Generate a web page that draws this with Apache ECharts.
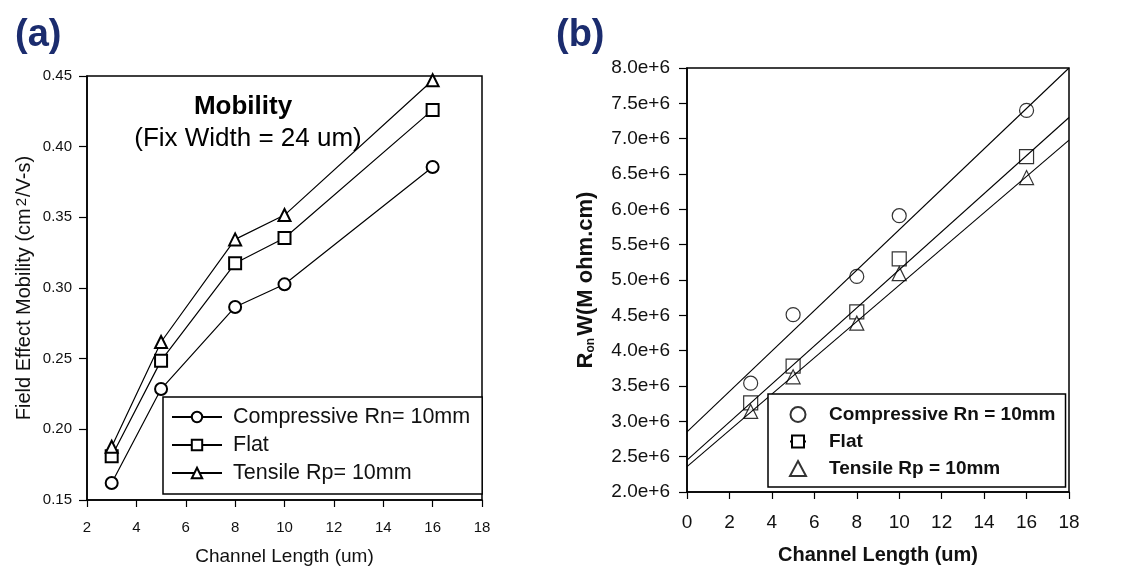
<!DOCTYPE html>
<html>
<head>
<meta charset="utf-8">
<script src="https://cdn.jsdelivr.net/npm/echarts@6/dist/echarts.min.js"></script>
<style>
  html, body { margin: 0; padding: 0; background: #fff; }
  #main { width: 1139px; height: 567px; }
</style>
</head>
<body>
<div id="main"></div>
<script>
// 数据 (a) 迁移率
const lengthA = [3, 5, 8, 10, 16];
const mobCompressive = [0.162, 0.2285, 0.2866, 0.3026, 0.3856];
const mobFlat = [0.181, 0.2486, 0.3175, 0.3354, 0.426];
const mobTensile = [0.1877, 0.2618, 0.3344, 0.3516, 0.447];

// 数据 (b) Ron*W
const lengthB = [3, 5, 8, 10, 16];
const ronCompressive = [3.54e6, 4.51e6, 5.05e6, 5.91e6, 7.40e6];
const ronFlat = [3.26e6, 3.78e6, 4.55e6, 5.30e6, 6.745e6];
const ronTensile = [3.14e6, 3.63e6, 4.39e6, 5.09e6, 6.45e6];

// 拟合直线两端 (x=0, x=18)
const fitX = [0, 18];
const fitCompressive = [2.85e6, 8.0e6];
const fitFlat = [2.45e6, 7.30e6];
const fitTensile = [2.36e6, 6.98e6];

const namesA = ['Compressive Rn= 10mm', 'Flat', 'Tensile Rp= 10mm'];
const namesB = ['Compressive Rn = 10mm', 'Flat', 'Tensile Rp = 10mm'];

const FONT = '"Liberation Sans", Arial, sans-serif';

function pairs(xs, ys) {
  return xs.map((x, i) => [x, ys[i]]);
}

const chart = echarts.init(document.getElementById('main'));

const markerA = {
  type: 'line',
  xAxisIndex: 0,
  yAxisIndex: 0,
  symbolSize: 12,
  showAllSymbol: true,
  lineStyle: { color: '#000', width: 1.2 },
  itemStyle: { color: '#000', borderColor: '#000', borderWidth: 1.6 },
  emphasis: { disabled: true }
};

const markerB = {
  type: 'scatter',
  xAxisIndex: 1,
  yAxisIndex: 1,
  symbolSize: 14,
  itemStyle: { color: '#fff', borderColor: '#000', borderWidth: 1.2 },
  emphasis: { disabled: true }
};

const fitLine = {
  type: 'line',
  xAxisIndex: 1,
  yAxisIndex: 1,
  showSymbol: false,
  symbol: 'none',
  lineStyle: { color: '#000', width: 1.1 },
  emphasis: { disabled: true }
};

const option = {
  backgroundColor: '#fff',
  animation: false,
  textStyle: { fontFamily: FONT },
  title: [
    { text: '(a)', left: 10, top: 12, textStyle: { fontSize: 38, fontWeight: 'bold', color: '#1b2c6e', fontFamily: FONT } },
    { text: '(b)', left: 551, top: 12, textStyle: { fontSize: 38, fontWeight: 'bold', color: '#1b2c6e', fontFamily: FONT } },
    { text: 'Mobility', left: 238, top: 89, textAlign: 'center', textStyle: { fontSize: 26, fontWeight: 'bold', color: '#000', fontFamily: FONT } },
    { text: '(Fix Width = 24 um)', left: 243, top: 121, textAlign: 'center', textStyle: { fontSize: 26, fontWeight: 'normal', color: '#000', fontFamily: FONT } }
  ],
  grid: [
    { left: 87, top: 76, width: 395, height: 424, outerBoundsMode: 'none', show: true, borderColor: '#000', borderWidth: 1.5, backgroundColor: 'transparent' },
    { left: 687, top: 68, width: 382, height: 424, outerBoundsMode: 'none', show: true, borderColor: '#000', borderWidth: 1.5, backgroundColor: 'transparent' }
  ],
  xAxis: [
    {
      gridIndex: 0, type: 'value', min: 2, max: 18, interval: 2,
      name: 'Channel Length (um)', nameLocation: 'middle', nameGap: 47,
      nameTextStyle: { fontSize: 19, color: '#111', fontFamily: FONT },
      axisLine: { lineStyle: { color: '#000', width: 1.5 } },
      axisTick: { inside: false, length: 7, lineStyle: { color: '#000', width: 1.2 } },
      axisLabel: { fontSize: 15, color: '#111', margin: 20, fontFamily: FONT },
      splitLine: { show: false }
    },
    {
      gridIndex: 1, type: 'value', min: 0, max: 18, interval: 2,
      name: 'Channel Length (um)', nameLocation: 'middle', nameGap: 53,
      nameTextStyle: { fontSize: 20, fontWeight: 'bold', color: '#111', fontFamily: FONT },
      axisLine: { lineStyle: { color: '#000', width: 1.5 } },
      axisTick: { inside: false, length: 7, lineStyle: { color: '#000', width: 1.2 } },
      axisLabel: { fontSize: 19, color: '#111', margin: 21, fontFamily: FONT },
      splitLine: { show: false }
    }
  ],
  yAxis: [
    {
      gridIndex: 0, type: 'value', min: 0.15, max: 0.45, interval: 0.05,
      name: '{a|Field Effect Mobility (cm}{u|2}{a|/V-s)}', nameLocation: 'middle', nameGap: 52,
      nameTextStyle: {
        color: '#111',
        rich: {
          a: { fontSize: 20, color: '#111', fontFamily: FONT },
          u: { fontSize: 15, color: '#111', fontFamily: FONT, verticalAlign: 'top', padding: [0, 1, 6, 2] }
        }
      },
      axisLine: { lineStyle: { color: '#000', width: 1.5 } },
      axisTick: { inside: false, length: 8, lineStyle: { color: '#000', width: 1.2 } },
      axisLabel: { fontSize: 15, color: '#111', margin: 15, fontFamily: FONT, formatter: v => v.toFixed(2) },
      splitLine: { show: false }
    },
    {
      gridIndex: 1, type: 'value', min: 2e6, max: 8e6, interval: 5e5,
      name: '{a|R}{s|on}{a|W(M ohm.cm)}', nameLocation: 'middle', nameGap: 90,
      nameTextStyle: {
        color: '#111',
        rich: {
          a: { fontSize: 22, fontWeight: 'bold', color: '#111', fontFamily: FONT },
          s: { fontSize: 12, fontWeight: 'bold', color: '#111', fontFamily: FONT, verticalAlign: 'bottom', padding: [10, 2, 0, 0] }
        }
      },
      axisLine: { lineStyle: { color: '#000', width: 1.5 } },
      axisTick: { inside: false, length: 8, lineStyle: { color: '#000', width: 1.2 } },
      axisLabel: { fontSize: 19, color: '#111', margin: 17, fontFamily: FONT, formatter: v => (v / 1e6).toFixed(1) + 'e+6' },
      splitLine: { show: false }
    }
  ],
  legend: [
    {
      data: namesA,
      orient: 'vertical',
      left: 163, top: 397,
      itemWidth: 50, itemHeight: 13, itemGap: 6,
      padding: [9, 12, 10, 8],
      borderColor: '#000', borderWidth: 1.5,
      backgroundColor: '#fff',
      selectedMode: false,
      textStyle: { fontSize: 21.5, color: '#111', fontFamily: FONT, padding: [0, 0, 0, 6] }
    },
    {
      data: namesB,
      orient: 'vertical',
      left: 768, top: 394,
      itemWidth: 16, itemHeight: 15, itemGap: 8,
      padding: [11, 10, 9, 21],
      borderColor: '#000', borderWidth: 1.5,
      backgroundColor: '#fff',
      selectedMode: false,
      textStyle: { fontSize: 19, fontWeight: 'bold', color: '#111', fontFamily: FONT, padding: [0, 0, 0, 18] }
    }
  ],
  series: [
    Object.assign({}, markerA, { name: namesA[0], symbol: 'emptyCircle', data: pairs(lengthA, mobCompressive) }),
    Object.assign({}, markerA, { name: namesA[1], symbol: 'emptyRect', data: pairs(lengthA, mobFlat) }),
    Object.assign({}, markerA, { name: namesA[2], symbol: 'emptyTriangle', data: pairs(lengthA, mobTensile) }),

    Object.assign({}, fitLine, { name: 'fitC', data: pairs(fitX, fitCompressive) }),
    Object.assign({}, fitLine, { name: 'fitF', data: pairs(fitX, fitFlat) }),
    Object.assign({}, fitLine, { name: 'fitT', data: pairs(fitX, fitTensile) }),

    Object.assign({}, markerB, { name: namesB[0], symbol: 'circle', data: pairs(lengthB, ronCompressive) }),
    Object.assign({}, markerB, { name: namesB[1], symbol: 'rect', data: pairs(lengthB, ronFlat) }),
    Object.assign({}, markerB, { name: namesB[2], symbol: 'triangle', data: pairs(lengthB, ronTensile) })
  ]
};

chart.setOption(option);
</script>
</body>
</html>
